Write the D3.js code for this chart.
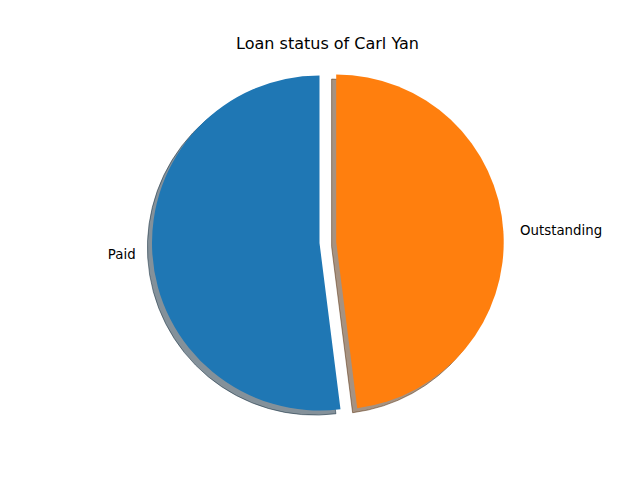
<!DOCTYPE html>
<html>
<head>
<meta charset="utf-8">
<script src="https://cdn.jsdelivr.net/npm/d3@7"></script>
<style>
  html, body { margin: 0; padding: 0; background: #fff; }
  svg { display: block; }
</style>
</head>
<body>
<svg id="chart" width="640" height="480"></svg>
<script>
const categories = ["Paid", "Outstanding"];
const values = [52, 48];
const explode = [0, 0.1];
const colors = ["#1f77b4", "#ff7f0e"];
const shadowColors = ["rgb(9,36,54)", "rgb(77,38,4)"];
const title = "Loan status of Carl Yan";

const W = 640, H = 480;
const cx = 319.5, cy = 243, r = 167.5;
const shadowOffset = 4.6;

const svg = d3.select("#chart");

svg.append("text")
  .attr("x", 327.5).attr("y", 49)
  .attr("text-anchor", "middle")
  .attr("font-family", "DejaVu Sans, sans-serif")
  .attr("font-size", "16px")
  .attr("fill", "#000")
  .text(title);

// counterclockwise from top, like matplotlib startangle=90
const pie = d3.pie().sort(null).startAngle(0).endAngle(-2 * Math.PI);
const arcs = pie(values);
const arc = d3.arc().innerRadius(0).outerRadius(r);

function offsetOf(d, i) {
  const mid = (d.startAngle + d.endAngle) / 2;
  const e = explode[i] * r;
  return [Math.sin(mid) * e, -Math.cos(mid) * e];
}

const g = svg.append("g").attr("transform", `translate(${cx},${cy})`);

// shadows first (below all wedges)
g.selectAll("path.shadow").data(arcs).enter().append("path")
  .attr("class", "shadow")
  .attr("d", arc)
  .attr("transform", (d, i) => {
    const [dx, dy] = offsetOf(d, i);
    return `translate(${dx - shadowOffset},${dy + shadowOffset})`;
  })
  .attr("fill", (d, i) => shadowColors[i])
  .attr("fill-opacity", 0.5)
  .attr("stroke", (d, i) => shadowColors[i])
  .attr("stroke-opacity", 0.5)
  .attr("stroke-width", 1);

g.selectAll("path.wedge").data(arcs).enter().append("path")
  .attr("class", "wedge")
  .attr("d", arc)
  .attr("transform", (d, i) => {
    const [dx, dy] = offsetOf(d, i);
    return `translate(${dx},${dy})`;
  })
  .attr("fill", (d, i) => colors[i]);

// labels at 1.1 r along mid angle
g.selectAll("text.label").data(arcs).enter().append("text")
  .attr("class", "label")
  .each(function (d, i) {
    const mid = (d.startAngle + d.endAngle) / 2;
    const [dx, dy] = offsetOf(d, i);
    const x = dx + Math.sin(mid) * r * 1.1;
    const y = dy - Math.cos(mid) * r * 1.1;
    d3.select(this)
      .attr("x", x)
      .attr("y", y + 4.6)
      .attr("text-anchor", x < 0 ? "end" : "start");
  })
  .attr("font-family", "DejaVu Sans, sans-serif")
  .attr("font-size", "13.33px")
  .attr("fill", "#000")
  .text((d, i) => categories[i]);
</script>
</body>
</html>
